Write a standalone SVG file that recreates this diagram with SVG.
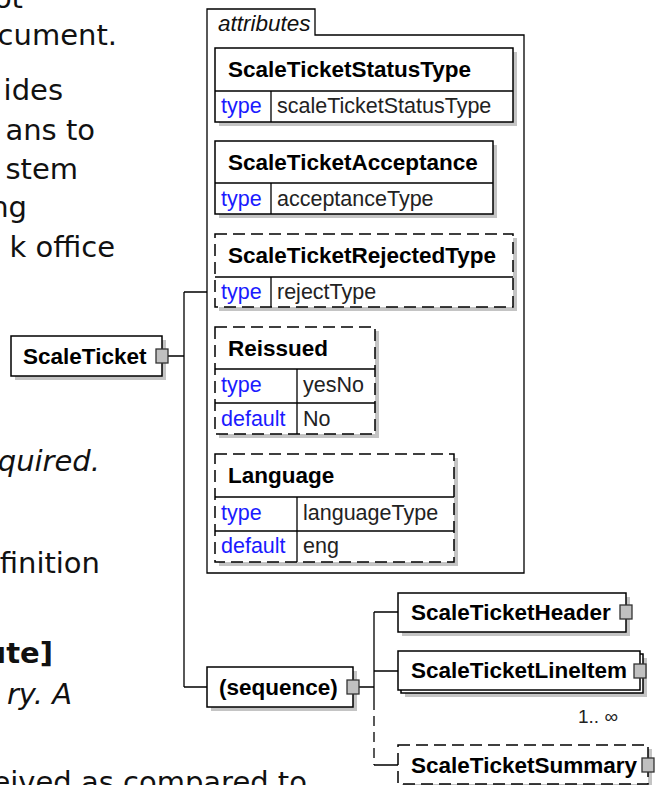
<svg xmlns="http://www.w3.org/2000/svg" width="659" height="785" viewBox="0 0 659 785">
<style>
.bg{font-family:"DejaVu Sans",Verdana,sans-serif;font-size:29px;fill:#111;text-anchor:end}
.it{font-style:italic}
.bd{font-weight:bold}
.box{fill:#fff;stroke:#000;stroke-width:1.5}
.dash{fill:#fff;stroke:#000;stroke-width:1.5;stroke-dasharray:12,6}
.sh{fill:#c4c4c4}
.ln{fill:none;stroke:#000;stroke-width:1.3}
.dl{fill:none;stroke:#000;stroke-width:1.3;stroke-dasharray:10,6}
.nm{font-family:"Liberation Sans",Arial,sans-serif;font-size:22.5px;font-weight:bold;fill:#000}
.k{font-family:"Liberation Sans",Arial,sans-serif;font-size:21.5px;fill:#1a1aff}
.v{font-family:"Liberation Sans",Arial,sans-serif;font-size:21.5px;fill:#222}
.sq{fill:#c0c0c0;stroke:#333;stroke-width:1.3}
</style>
<rect width="659" height="785" fill="#fff"/>
<g id="background-text">
<text class="bg" x="23" y="8">ot</text>
<text class="bg" x="117" y="45">cument.</text>
<text class="bg" x="63" y="100">ides</text>
<text class="bg" x="95" y="140">ans to</text>
<text class="bg" x="78" y="179">stem</text>
<text class="bg" x="27" y="217">ng</text>
<text class="bg" x="115" y="257">k office</text>
<text class="bg it" x="100" y="471">quired.</text>
<text class="bg" x="100" y="573">finition</text>
<text class="bg bd" x="53" y="663">ute]</text>
<text class="bg it" x="72" y="704">ry. A</text>
<text class="bg" x="307" y="792">eived as compared to</text>
</g>
<g id="connectors">
<path class="ln" d="M168,356 H184 M184,292 V687 M184,292 H207 M184,687 H207"/>
<path class="ln" d="M359,687 H374 M374,612 V700 M374,612 H398 M374,671 H398 M374,765 H398"/>
<path class="dl" d="M374,700 V765"/>
</g>
<g id="attributes">
<path class="ln" d="M207,573 V9 H315 V35 H524 V573 Z"/>
<text x="218" y="31" font-family="Liberation Sans,Arial,sans-serif" font-size="22.5" font-style="italic" fill="#111">attributes</text>
</g>
<g id="ScaleTicketStatusType">
<rect class="sh" x="219" y="52" width="298" height="74"/>
<rect class="box" x="215" y="48" width="298" height="74"/>
<path class="ln" d="M215,91 H513 M271,91 V122"/>
<text class="nm" x="228" y="77">ScaleTicketStatusType</text>
<text class="k" x="221" y="113">type</text>
<text class="v" x="277" y="113">scaleTicketStatusType</text>
</g>
<g id="ScaleTicketAcceptance">
<rect class="sh" x="219" y="145" width="278" height="73"/>
<rect class="box" x="215" y="141" width="278" height="73"/>
<path class="ln" d="M215,183 H493 M271,183 V214"/>
<text class="nm" x="228" y="170">ScaleTicketAcceptance</text>
<text class="k" x="221" y="206">type</text>
<text class="v" x="277" y="206">acceptanceType</text>
</g>
<g id="ScaleTicketRejectedType">
<rect class="sh" x="219" y="238" width="298" height="73"/>
<rect class="dash" x="215" y="234" width="298" height="73"/>
<path class="ln" d="M215,277 H513 M271,277 V307"/>
<text class="nm" x="228" y="263">ScaleTicketRejectedType</text>
<text class="k" x="221" y="299">type</text>
<text class="v" x="277" y="299">rejectType</text>
</g>
<g id="Reissued">
<rect class="sh" x="219" y="331" width="160" height="107"/>
<rect class="dash" x="215" y="327" width="160" height="107"/>
<path class="ln" d="M215,369 H375 M215,403 H375 M297,369 V434"/>
<text class="nm" x="228" y="356">Reissued</text>
<text class="k" x="221" y="392">type</text>
<text class="v" x="303" y="392">yesNo</text>
<text class="k" x="221" y="426">default</text>
<text class="v" x="303" y="426">No</text>
</g>
<g id="Language">
<rect class="sh" x="219" y="458" width="239" height="108"/>
<rect class="dash" x="215" y="454" width="239" height="108"/>
<path class="ln" d="M215,497 H454 M215,531 H454 M297,497 V562"/>
<text class="nm" x="228" y="483">Language</text>
<text class="k" x="221" y="520">type</text>
<text class="v" x="303" y="520">languageType</text>
<text class="k" x="221" y="553">default</text>
<text class="v" x="303" y="553">eng</text>
</g>
<g id="ScaleTicket">
<rect class="sh" x="15" y="340" width="151" height="40"/>
<rect class="box" x="11" y="336" width="151" height="40"/>
<text class="nm" x="23" y="364">ScaleTicket</text>
<rect class="sq" x="156" y="349" width="12" height="14"/>
</g>
<g id="sequence">
<rect class="sh" x="211" y="671" width="146" height="40"/>
<rect class="box" x="207" y="667" width="146" height="40"/>
<text class="nm" x="219" y="695">(sequence)</text>
<rect class="sq" x="347" y="680" width="12" height="14"/>
</g>
<g id="ScaleTicketHeader">
<rect class="sh" x="402" y="597" width="228" height="39"/>
<rect class="box" x="398" y="593" width="228" height="39"/>
<text class="nm" x="411" y="620">ScaleTicketHeader</text>
<rect class="sq" x="620" y="605" width="12" height="14"/>
</g>
<g id="ScaleTicketLineItem">
<rect class="sh" x="405" y="658" width="242" height="39"/>
<rect class="box" x="401" y="654" width="242" height="39"/>
<rect class="box" x="398" y="651" width="242" height="39"/>
<text class="nm" x="411" y="678">ScaleTicketLineItem</text>
<rect class="sq" x="634" y="664" width="12" height="14"/>
<text x="578" y="723" font-family="Liberation Sans,Arial,sans-serif" font-size="19" fill="#222">1.. ∞</text>
</g>
<g id="ScaleTicketSummary">
<rect class="sh" x="402" y="749" width="250" height="39"/>
<rect class="dash" x="398" y="745" width="250" height="39"/>
<text class="nm" x="411" y="773">ScaleTicketSummary</text>
<rect class="sq" x="642" y="758" width="12" height="14"/>
</g>
</svg>
